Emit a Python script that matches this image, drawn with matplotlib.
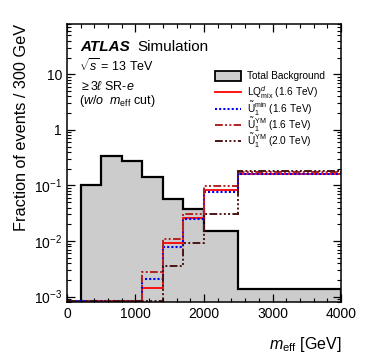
import numpy as np
import matplotlib
matplotlib.use('Agg')
import matplotlib.pyplot as plt
from matplotlib.patches import Rectangle
from matplotlib.lines import Line2D
from matplotlib.ticker import LogLocator, MultipleLocator, FuncFormatter

plt.rcParams['font.family'] = ['Liberation Sans', 'DejaVu Sans']
plt.rcParams['mathtext.fontset'] = 'custom'
plt.rcParams['mathtext.rm'] = 'Liberation Sans'
plt.rcParams['mathtext.it'] = 'Liberation Sans:italic'
plt.rcParams['mathtext.bf'] = 'Liberation Sans:bold'

# m_eff bin edges [GeV]
edges = [0, 200, 500, 800, 1100, 1400, 1700, 2000, 2500, 4000]

# fraction of events per bin
background = [0, 0.1, 0.34, 0.27, 0.139, 0.058, 0.037, 0.015, 0.00137]
lq_mix_16 = [0, 0, 0, 0, 0.0014, 0.0091, 0.0254, 0.084, 0.16]
u1_min_16 = [0, 0, 0, 0, 0.0021, 0.0077, 0.025, 0.076, 0.16]
u1_ym_16 = [0, 0, 0, 0, 0.0028, 0.0109, 0.031, 0.096, 0.173]
u1_ym_20 = [0, 0, 0, 0, 0, 0.0035, 0.0093, 0.031, 0.18]

signal_labels = [r'LQ$^{d}_{\rm mix}$ (1.6 TeV)',
                 r'$\tilde{\rm U}_1^{\rm min}$ (1.6 TeV)',
                 r'$\tilde{\rm U}_1^{\rm YM}$ (1.6 TeV)',
                 r'$\tilde{\rm U}_1^{\rm YM}$ (2.0 TeV)']

YMIN, YMAX = 8e-4, 80


def floor(v, low):
    v = np.array(v, dtype=float)
    return np.where(v > 0, v, low)


fig = plt.figure(figsize=(3.74, 3.59), dpi=100)
ax = fig.add_axes([0.179, 0.159, 0.733, 0.774])

ax.stairs(floor(background, 1e-6), edges, baseline=1e-6, fill=True,
          facecolor='#cccccc', edgecolor='none')
ax.stairs(floor(background, 1e-6), edges, baseline=1e-6, color='black', lw=1.6)

styles = [
    dict(color='#ff0000', lw=1.3, ls='-'),
    dict(color='#0000ff', lw=1.5, ls=(0, (1, 1))),
    dict(color='#b22222', lw=1.4, ls=(0, (4, 1.2, 1, 1.2, 1, 1.2))),
    dict(color='#4b1515', lw=1.4, ls=(0, (4, 1.2, 1, 1.2, 1, 1.2, 1, 1.2))),
]
signals = [lq_mix_16, u1_min_16, u1_ym_16, u1_ym_20]
for vals, st in zip(signals, styles):
    ax.stairs(floor(vals, YMIN * 1.03), edges, baseline=None, **st)

ax.set_yscale('log')
ax.set_xlim(0, 4000)
ax.set_ylim(YMIN, YMAX)

ax.xaxis.set_major_locator(MultipleLocator(1000))
ax.xaxis.set_minor_locator(MultipleLocator(200))
ax.yaxis.set_major_locator(LogLocator(base=10, numticks=10))
ax.yaxis.set_minor_locator(LogLocator(base=10, subs=np.arange(2, 10), numticks=20))


def ylab(v, pos):
    if v == 1:
        return '1'
    if v == 10:
        return '10'
    return r'$10^{%d}$' % int(round(np.log10(v)))


ax.yaxis.set_major_formatter(FuncFormatter(ylab))
ax.tick_params(which='both', direction='in', top=True, right=True, labelsize=10)
ax.tick_params(which='major', length=6, width=0.9)
ax.tick_params(which='minor', length=3, width=0.8)
ax.tick_params(axis='x', pad=4)
for sp in ax.spines.values():
    sp.set_linewidth(1.1)

ax.set_xlabel(r'$m_{\rm eff}$ [GeV]', fontsize=11.5, ha='right', x=1.0)
ax.xaxis.set_label_coords(1.0, -0.12)
ax.set_ylabel('Fraction of events / 300 GeV', fontsize=11.7, ha='right', y=1.0)
ax.yaxis.set_label_coords(-0.14, 1.0)

ax.text(0.048, 0.917, 'ATLAS', transform=ax.transAxes, fontsize=11,
        fontweight='bold', fontstyle='italic', va='center')
ax.text(0.258, 0.917, 'Simulation', transform=ax.transAxes, fontsize=11,
        va='center')
ax.text(0.045, 0.83, r'$\sqrt{s}$ = 13 TeV', transform=ax.transAxes,
        fontsize=9, va='baseline')
ax.text(0.045, 0.762, r'$\geq$3$\ell$ SR-$e$', transform=ax.transAxes,
        fontsize=9, va='baseline')
ax.text(0.045, 0.712, r'($w/o$  $m_{\rm eff}$ cut)', transform=ax.transAxes,
        fontsize=9, va='baseline')

# legend, rows laid out by hand so they keep an even spacing
leg_x0, leg_x1, leg_tx = 0.540, 0.634, 0.656
leg_y0, leg_dy = 0.814, 0.059
ax.add_patch(Rectangle((leg_x0, leg_y0 - 0.018), leg_x1 - leg_x0, 0.036,
                       transform=ax.transAxes, facecolor='#cccccc',
                       edgecolor='black', lw=1.3, clip_on=False))
ax.text(leg_tx, leg_y0, 'Total Background', transform=ax.transAxes,
        fontsize=7.3, va='center')
for i, (lab, st) in enumerate(zip(signal_labels, styles)):
    y = leg_y0 - (i + 1) * leg_dy
    ax.add_line(Line2D([leg_x0, leg_x1], [y, y], transform=ax.transAxes,
                       clip_on=False, **st))
    ax.text(leg_tx, y, lab, transform=ax.transAxes, fontsize=7.3, va='center')

fig.savefig('out.png', dpi=100)
